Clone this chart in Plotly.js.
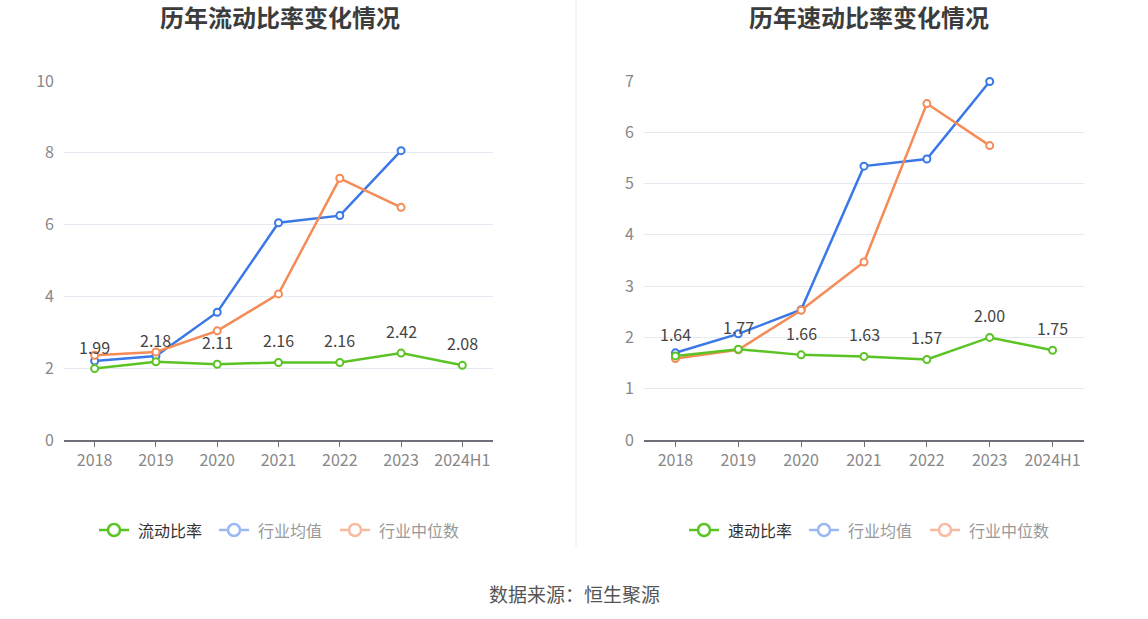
<!DOCTYPE html>
<html>
<head>
<meta charset="utf-8">
<script src="https://cdn.plot.ly/plotly-3.0.1.min.js"></script>
<style>
html,body{margin:0;padding:0;background:#fff;}
#chart{width:1148px;height:619px;}
</style>
</head>
<body>
<div id="chart"></div>
<script>
const categories = ['2018','2019','2020','2021','2022','2023','2024H1'];
const currentRatio = [1.99, 2.18, 2.11, 2.16, 2.16, 2.42, 2.08];
const currentAvg = [2.20, 2.34, 3.56, 6.05, 6.25, 8.06, null];
const currentMedian = [2.36, 2.45, 3.04, 4.07, 7.29, 6.48, null];
const quickRatio = [1.64, 1.77, 1.66, 1.63, 1.57, 2.00, 1.75];
const quickAvg = [1.70, 2.07, 2.54, 5.34, 5.48, 6.99, null];
const quickMedian = [1.59, 1.76, 2.53, 3.47, 6.56, 5.74, null];
const leftTicks = [0, 2, 4, 6, 8, 10];
const rightTicks = [0, 1, 2, 3, 4, 5, 6, 7];

const GREEN = '#5bc424', BLUE = '#3b78e7', ORANGE = '#f58b57';
const FONT = '"Noto Sans CJK SC", "Noto Sans", sans-serif';

function line(x, y, color, xa, ya) {
  return {
    x: x, y: y, xaxis: xa, yaxis: ya, type: 'scatter',
    mode: 'lines+markers',
    line: {color: color, width: 2.5},
    marker: {symbol: 'circle', size: 7, color: '#fff', line: {color: color, width: 2}},
    showlegend: false, hoverinfo: 'x+y', cliponaxis: false
  };
}

const data = [
  line(categories, currentAvg, BLUE, 'x', 'y'),
  line(categories, currentMedian, ORANGE, 'x', 'y'),
  line(categories, currentRatio, GREEN, 'x', 'y'),
  line(categories, quickAvg, BLUE, 'x2', 'y2'),
  line(categories, quickMedian, ORANGE, 'x2', 'y2'),
  line(categories, quickRatio, GREEN, 'x2', 'y2')
];

function xaxis(domain, anchor) {
  return {
    domain: domain, anchor: anchor, type: 'category',
    range: [-0.5, categories.length - 0.5],
    showgrid: false, zeroline: false,
    showline: true, linecolor: '#6e7079', linewidth: 1.5,
    ticks: 'outside', ticklen: 5, tickcolor: '#6e7079',
    tickfont: {family: FONT, size: 16, color: '#888'},
    fixedrange: true
  };
}
function yaxis(domain, anchor, range, ticks) {
  return {
    domain: domain, anchor: anchor, range: range,
    tickvals: ticks, ticktext: ticks.map(String),
    showgrid: true, gridcolor: '#e6e9f2', gridwidth: 1,
    zeroline: false, showline: false, ticks: '',
    ticklabelstandoff: 9,
    tickfont: {family: FONT, size: 16, color: '#888'},
    fixedrange: true
  };
}

const W = 1148, H = 619;
const shapes = [
  {type: 'line', xref: 'paper', yref: 'paper', x0: 576/W, x1: 576/W, y0: 1 - 548/H, y1: 1, line: {color: '#eeeeee', width: 1}}
];
const annotations = [
  {text: '<b>历年流动比率变化情况</b>', xref: 'paper', yref: 'paper', x: 280/W, y: 1 - 17/H, showarrow: false, xanchor: 'center', yanchor: 'middle', font: {family: FONT, size: 24, color: '#3c3c3c'}},
  {text: '<b>历年速动比率变化情况</b>', xref: 'paper', yref: 'paper', x: 869/W, y: 1 - 17/H, showarrow: false, xanchor: 'center', yanchor: 'middle', font: {family: FONT, size: 24, color: '#3c3c3c'}},
  {text: '数据来源：恒生聚源', xref: 'paper', yref: 'paper', x: 574/W, y: 1 - 593/H, showarrow: false, xanchor: 'center', yanchor: 'middle', font: {family: FONT, size: 19, color: '#555'}}
];

function valueLabels(values, xa, ya) {
  values.forEach((v, i) => {
    annotations.push({
      text: v.toFixed(2), xref: xa, yref: ya, x: i, y: v,
      showarrow: false, xanchor: 'center', yanchor: 'bottom', yshift: 8,
      font: {family: FONT, size: 16, color: '#444'}
    });
  });
}
valueLabels(currentRatio, 'x', 'y');
valueLabels(quickRatio, 'x2', 'y2');

function legendItem(x, label, color, textColor) {
  const yc = 1 - 530/H;
  shapes.push({type: 'line', xref: 'paper', yref: 'paper', x0: x/W, x1: (x+30)/W, y0: yc, y1: yc, line: {color: color, width: 2.5}});
  shapes.push({type: 'circle', xref: 'paper', yref: 'paper', x0: (x+9)/W, x1: (x+21)/W, y0: yc - 6/H, y1: yc + 6/H, fillcolor: '#fff', line: {color: color, width: 2.5}});
  annotations.push({text: label, xref: 'paper', yref: 'paper', x: (x+37)/W, y: yc, showarrow: false, xanchor: 'left', yanchor: 'middle', font: {family: FONT, size: 16, color: textColor}});
}
legendItem(99, '流动比率', GREEN, '#333');
legendItem(219, '行业均值', '#9ab9f3', '#999');
legendItem(340, '行业中位数', '#f9bba0', '#999');
legendItem(689, '速动比率', GREEN, '#333');
legendItem(809, '行业均值', '#9ab9f3', '#999');
legendItem(930, '行业中位数', '#f9bba0', '#999');

const plotTop = 81, plotBottom = 440;
const yDom = [1 - plotBottom/H, 1 - plotTop/H];
const layout = {
  width: W, height: H,
  margin: {l: 0, r: 0, t: 0, b: 0},
  paper_bgcolor: '#fff', plot_bgcolor: '#fff',
  xaxis: xaxis([64/W, 493/W], 'y'),
  yaxis: yaxis(yDom, 'x', [0, 10], leftTicks),
  xaxis2: xaxis([644/W, 1084/W], 'y2'),
  yaxis2: yaxis(yDom, 'x2', [0, 7], rightTicks),
  shapes: shapes,
  annotations: annotations,
  showlegend: false
};

Plotly.newPlot('chart', data, layout, {displayModeBar: false, staticPlot: true});
</script>
</body>
</html>
